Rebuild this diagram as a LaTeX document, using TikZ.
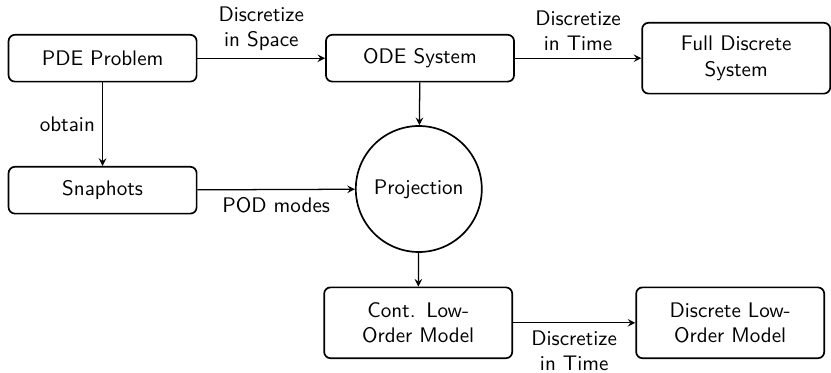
\documentclass[tikz,border=0pt]{standalone}
\begin{document}
\begin{tikzpicture}[
    bloco/.style={draw, thick, rounded corners=3pt, text width=2.9cm, align=center, minimum height=0.78cm, font=\sffamily},
    bloco2/.style={bloco, minimum height=1.18cm},
    seta/.style={-stealth, semithick},
    rotulo/.style={font=\sffamily, align=center}
  ]
  \useasboundingbox (0,0) rectangle (13.85,6.2);

  % Blocos do diagrama
  \node[bloco] (pde) at (1.71,5.23) {PDE Problem};
  \node[bloco] (ode) at (7.0,5.23) {ODE System};
  \node[bloco2] (full) at (12.27,5.23) {Full Discrete\\System};
  \node[bloco] (snap) at (1.71,3.03) {Snaphots};
  \node[draw, thick, circle, minimum size=2.1cm, font=\sffamily] (proj) at (6.98,3.05) {Projection};
  \node[bloco2] (cont) at (6.97,0.82) {Cont. Low-\\Order Model};
  \node[bloco2] (dlow) at (12.17,0.82) {Discrete Low-\\Order Model};

  % Setas
  \draw[seta] (pde) -- node[rotulo, above] (lspace) {Discretize\\in Space} (ode);
  \draw[seta] (ode) -- node[rotulo, above] (ltime) {Discretize\\in Time} (full);
  \draw[seta] (pde) -- node[rotulo, left] (lobt) {obtain} (snap);
  \draw[seta] (snap) -- node[rotulo, below] (lpod) {POD modes} (proj);
  \draw[seta] (ode) -- (proj);
  \draw[seta] (proj) -- (cont);
  \draw[seta] (cont) -- node[rotulo, below] (ltime2) {Discretize\\in Time} (dlow);
\end{tikzpicture}
\end{document}
